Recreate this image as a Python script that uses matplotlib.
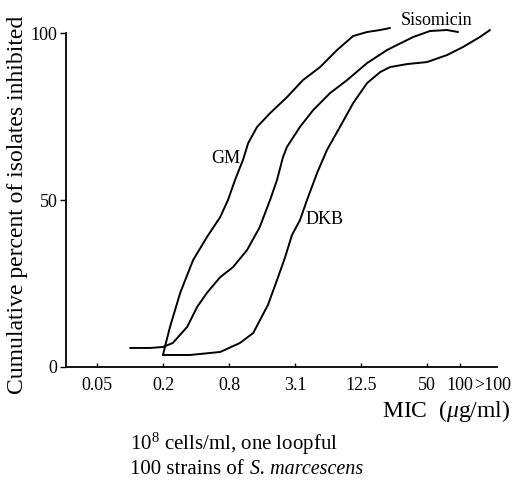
import numpy as np
import matplotlib
matplotlib.use("Agg")
from matplotlib import pyplot as plt

plt.rcParams['font.family'] = ['Liberation Serif', 'DejaVu Serif']
plt.rcParams['mathtext.fontset'] = 'custom'
plt.rcParams['mathtext.rm'] = 'Liberation Serif'
plt.rcParams['mathtext.it'] = 'Liberation Serif:italic'

# MIC (ug/ml) vs cumulative % of isolates inhibited
gm_mic = [0.195, 0.203, 0.226, 0.280, 0.367, 0.491, 0.649, 0.764, 0.886, 1.047,
          1.17, 1.41, 1.85, 2.64, 3.69, 5.29, 7.55, 10.6, 14.2, 18.7, 23.0]
gm_pct = [3.6, 6.0, 12.0, 22.2, 32.0, 38.9, 44.9, 50.0, 56.0, 62.0,
          67.1, 71.9, 76.0, 80.8, 85.9, 89.8, 94.9, 99.1, 100.3, 100.9, 101.5]

siso_mic = [0.0977, 0.149, 0.195, 0.240, 0.324, 0.360, 0.400, 0.491, 0.649, 0.849,
            1.14, 1.49, 1.85, 2.14, 2.43, 2.64, 3.47, 4.57, 6.52, 9.33,
            14.2, 21.6, 26.6, 37.4, 53.3, 76.2, 96.0]
siso_pct = [5.7, 5.7, 6.0, 7.2, 12.0, 15.0, 18.0, 22.2, 26.9, 29.9,
            35.0, 41.9, 50.0, 56.0, 62.9, 65.9, 71.9, 76.9, 82.0, 85.9,
            91.0, 94.9, 96.4, 98.8, 100.6, 100.9, 100.3]

dkb_mic = [0.195, 0.345, 0.649, 0.984, 1.30, 1.77, 2.14, 2.54, 2.93, 3.47,
           4.02, 4.97, 6.12, 8.04, 10.6, 14.2, 18.7, 23.0, 32.9, 50.0,
           76.2, 106.5, 152.0, 188.0]
dkb_pct = [3.6, 3.6, 4.5, 7.2, 10.2, 18.6, 26.0, 32.9, 39.5, 44.0,
           50.0, 58.1, 65.0, 71.9, 79.0, 85.0, 88.3, 89.8, 90.7, 91.3,
           93.4, 95.8, 98.8, 100.9]

xticks = [100 / 2**11, 100 / 2**9, 100 / 2**7, 100 / 2**5, 12.5, 50, 100, 200]
xlabels = ['0.05', '0.2', '0.8', '3.1', '12.5', '50', '100', '>100']
yticks = [0, 50, 100]

fig = plt.figure(figsize=(5.27, 4.82), dpi=100)
ax = fig.add_axes([0.1252, 0.2386, 0.8178, 0.6929])

for mic, pct in [(gm_mic, gm_pct), (siso_mic, siso_pct), (dkb_mic, dkb_pct)]:
    ax.plot(mic, pct, color='black', lw=1.4, clip_on=False,
            solid_joinstyle='round', solid_capstyle='round')

ax.set_xscale('log', base=2)
ax.set_xlim(0.0254, 217.6)
ax.set_ylim(0, 100)
ax.set_xticks(xticks)
ax.set_xticklabels(xlabels)
ax.minorticks_off()
ax.set_yticks(yticks)
ax.tick_params(axis='x', direction='in', length=3, width=1, labelsize=13, pad=7)
ax.tick_params(axis='y', direction='out', length=4, width=1, labelsize=13, pad=2)
ax.xaxis.get_major_ticks()[-1].tick1line.set_visible(False)
for side in ['top', 'right']:
    ax.spines[side].set_visible(False)
for side in ['left', 'bottom']:
    ax.spines[side].set_linewidth(1.3)

ax.text(0.732, 62.3, 'GM', fontsize=13, ha='center', va='center')
ax.text(5.75, 44.3, 'DKB', fontsize=13, ha='center', va='center')
ax.text(61.6, 103.6, 'Sisomicin', fontsize=13, ha='center', va='center')

fig.text(18 / 527, 1 - 205 / 482, 'Cumulative percent of isolates inhibited',
         rotation=90, fontsize=17, ha='center', va='center')
fig.text(510 / 527, 1 - 411 / 482, r'MIC  ($\mu$g/ml)', fontsize=17,
         ha='right', va='center')
fig.text(130 / 527, 1 - 450 / 482, r'10$^8$ cells/ml, one loopful',
         fontsize=15, ha='left', va='baseline')

# second note line: plain text followed by the italic species name
y2 = 1 - 474 / 482
t2 = fig.text(130 / 527, y2, '100 strains of', fontsize=15,
              ha='left', va='baseline')
renderer = fig.canvas.get_renderer()
bb = t2.get_window_extent(renderer=renderer)
fig.text((bb.x1 + 6) / 527, y2, 'S. marcescens', fontsize=14.5,
         style='italic', ha='left', va='baseline')

fig.savefig('out.png', dpi=100)
